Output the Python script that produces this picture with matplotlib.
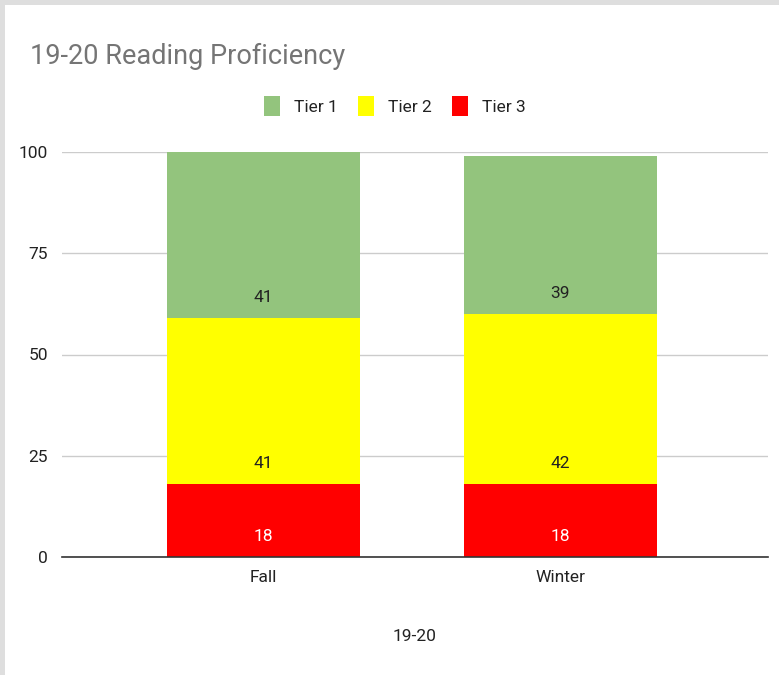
import matplotlib.pyplot as plt
from matplotlib.patches import Rectangle
import numpy as np

plt.rcParams["font.family"] = ["Roboto", "DejaVu Sans"]

seasons = ["Fall", "Winter"]
tiers = ["Tier 1", "Tier 2", "Tier 3"]
tier3 = [18, 18]
tier2 = [41, 42]
tier1 = [41, 39]
yticks = [0, 25, 50, 75, 100]

GREEN, YELLOW, RED = "#93c47d", "#ffff00", "#ff0000"
GRID, TITLE, INK = "#cccccc", "#757575", "#222222"

fig = plt.figure(figsize=(7.79, 6.75), dpi=100, facecolor="#dedede")
# white page inside the screenshot border
fig.patches.append(Rectangle((5 / 779, 0), 1, 1 - 5 / 675, transform=fig.transFigure,
                             facecolor="white", edgecolor="none", zorder=-5))

ax = fig.add_axes([62 / 779, 1 - 557 / 675, (768 - 62) / 779, 0.6])
ax.set_facecolor("white")
x = np.arange(len(seasons))
w = 0.65
stacks = [(tier3, RED, "white"), (tier2, YELLOW, INK), (tier1, GREEN, INK)]
bottom = np.zeros(len(seasons))
handles = {}
for vals, color, tcol in stacks:
    bars = ax.bar(x, vals, w, bottom=bottom, color=color, zorder=3)
    handles[color] = bars
    for xi, b, v in zip(x, bottom, vals):
        ax.text(xi, b + 5, str(v), ha="center", va="center", fontsize=12.5,
                color=tcol, zorder=4)
    bottom = bottom + np.array(vals)

ax.set_xlim(-0.678, 1.699)
ax.set_ylim(0, 100)
ax.set_yticks(yticks)
ax.set_xticks(x, seasons)
ax.grid(axis="y", color=GRID, lw=1, zorder=0)
ax.grid(axis="x", visible=False)
for s in ["top", "right", "left"]:
    ax.spines[s].set_visible(False)
ax.spines["bottom"].set_color("#333333")
ax.spines["bottom"].set_linewidth(1.2)
ax.spines["bottom"].set_zorder(5)
ax.tick_params(length=0, labelsize=12.5, colors=INK)
ax.tick_params(axis="y", pad=10)
ax.tick_params(axis="x", pad=9)
ax.set_xlabel("19-20", fontsize=12.5, color=INK, labelpad=32)

fig.text(30 / 779, 1 - 56 / 675, "19-20 Reading Proficiency", fontsize=19.5,
         color=TITLE, va="center", ha="left")

leg = fig.legend([handles[GREEN], handles[YELLOW], handles[RED]], tiers,
                 loc="center", bbox_to_anchor=(0.507, 1 - 106 / 675), ncol=3,
                 frameon=False, fontsize=12.5, handlelength=0.9, handleheight=1.4,
                 columnspacing=1.2, handletextpad=0.8)
for t in leg.get_texts():
    t.set_color(INK)

fig.savefig("out.png", dpi=100, facecolor=fig.get_facecolor())
